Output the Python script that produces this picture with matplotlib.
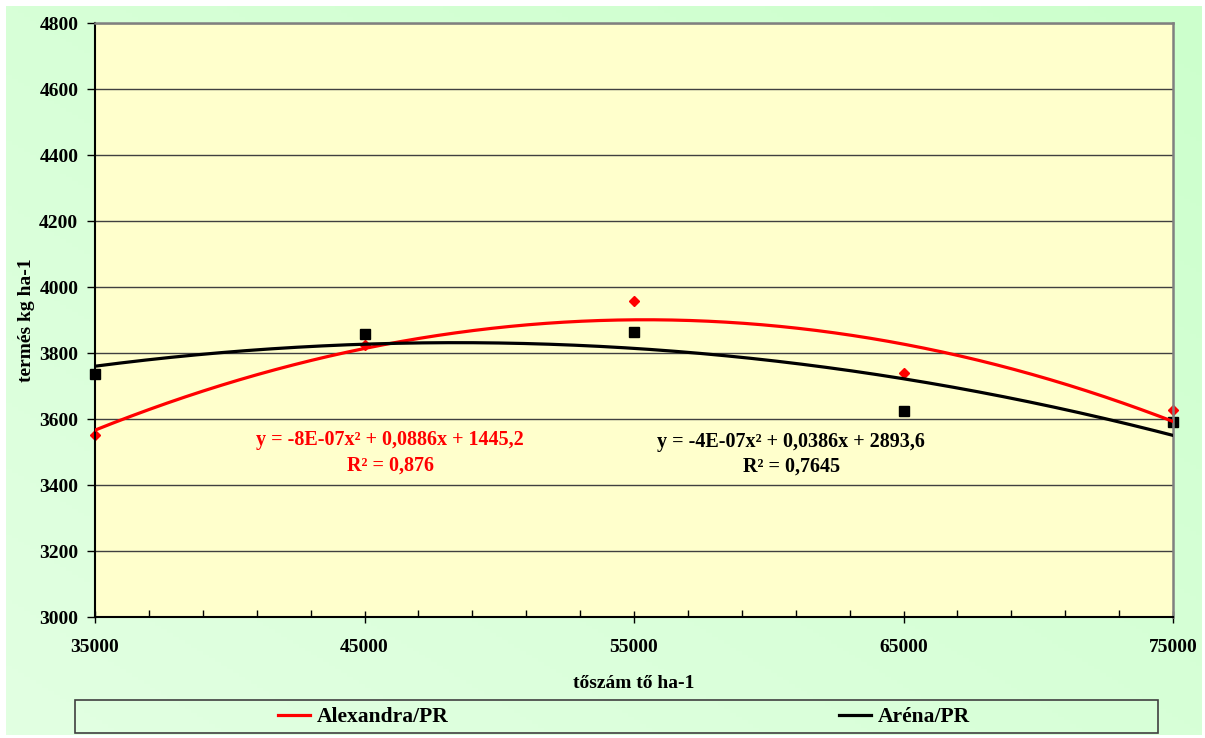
import numpy as np
import matplotlib
matplotlib.use("Agg")
import matplotlib.pyplot as plt
from matplotlib.patches import Rectangle
from matplotlib.ticker import MultipleLocator

# adatok
tőszám = [35000, 45000, 55000, 65000, 75000]
alexandra = [3551, 3825, 3958, 3739, 3627]
arena = [3736, 3858, 3864, 3624, 3591]

eq_alexandra = "y = -8E-07x² + 0,0886x + 1445,2\nR² = 0,876"
eq_arena = "y = -4E-07x² + 0,0386x + 2893,6\nR² = 0,7645"

plt.rcParams['font.family'] = ['Liberation Serif', 'DejaVu Serif']
plt.rcParams['font.weight'] = 'bold'

fig = plt.figure(figsize=(12.05, 7.38), dpi=100)
fig.patch.set_facecolor('white')

# zöld színátmenetes háttér (jobb felső sötétebb, bal alsó világosabb)
bg = fig.add_axes([6/1205, 3/738, 1196/1205, 729/738], zorder=-10)
gx, gy = np.meshgrid(np.linspace(0, 1, 200), np.linspace(0, 1, 200))
t = (1 - gx + gy) / 2
c0 = np.array([204, 255, 204]) / 255
c1 = np.array([226, 255, 226]) / 255
img = c0[None, None, :] * (1 - t[..., None]) + c1[None, None, :] * t[..., None]
bg.imshow(img, aspect='auto', extent=[0, 1, 0, 1], origin='upper')
bg.axis('off')

ax = fig.add_axes([95/1205, 121/738, 1078/1205, 594/738])
ax.set_facecolor('#ffffcc')

ax.plot(tőszám, alexandra, linestyle='none', marker='D', color='red', markersize=5.5,
        zorder=2, clip_on=False)
ax.plot(tőszám, arena, linestyle='none', marker='s', color='black', markersize=7,
        zorder=2, clip_on=False)

# trendvonalak (másodfokú)
xs = np.linspace(35000, 75000, 300)
p_alex = np.polyfit(tőszám, alexandra, 2)
p_aren = np.polyfit(tőszám, arena, 2)
l1, = ax.plot(xs, np.polyval(p_alex, xs), color='red', lw=2.3, label='Alexandra/PR', zorder=3)
l2, = ax.plot(xs, np.polyval(p_aren, xs), color='black', lw=2.3, label='Aréna/PR', zorder=3)

ax.text(45950, 3497, eq_alexandra, color='red', fontsize=14.5, fontweight='bold',
        ha='center', va='center', multialignment='center', linespacing=1.35)
ax.text(60830, 3493, eq_arena, color='black', fontsize=14.5, fontweight='bold',
        ha='center', va='center', multialignment='center', linespacing=1.35)

ax.set_xlim(35000, 75000)
ax.set_ylim(3000, 4800)
ax.xaxis.set_major_locator(MultipleLocator(10000, offset=5000))
ax.xaxis.set_minor_locator(MultipleLocator(2000, offset=1000))
ax.yaxis.set_major_locator(MultipleLocator(200))
ax.grid(axis='y', color='#404040', lw=1)
ax.set_axisbelow(True)

ax.tick_params(axis='x', which='major', direction='inout', length=9, width=1, pad=11, labelsize=14)
ax.tick_params(axis='x', which='minor', direction='in', length=5, width=1)
ax.tick_params(axis='y', which='major', direction='out', length=6, width=1, pad=6, labelsize=14)
for lab in ax.get_xticklabels() + ax.get_yticklabels():
    lab.set_fontweight('bold')

for s in ['left', 'bottom']:
    ax.spines[s].set_color('black')
    ax.spines[s].set_linewidth(1.5)
for s in ['top', 'right']:
    ax.spines[s].set_color('#808080')
    ax.spines[s].set_linewidth(1.8)

ax.set_xlabel('tőszám tő ha-1', fontsize=14, fontweight='bold')
ax.set_ylabel('termés kg ha-1', fontsize=14, fontweight='bold')
ax.xaxis.set_label_coords(0.5, -0.097)
ax.yaxis.set_label_coords(-0.056, 0.5)

# jelmagyarázat keret
fig.patches.append(Rectangle((75/1205, 5/738), 1083/1205, 33/738, transform=fig.transFigure,
                             facecolor='none', edgecolor='#404040', lw=1.2))
fig.legend(handles=[l1], loc='center', bbox_to_anchor=(363/1205, 21/738), frameon=False,
           handlelength=1.5, handletextpad=0.3, prop={'weight': 'bold', 'size': 15.5})
fig.legend(handles=[l2], loc='center', bbox_to_anchor=(904/1205, 21/738), frameon=False,
           handlelength=1.5, handletextpad=0.3, prop={'weight': 'bold', 'size': 15.5})

fig.savefig('out.png', dpi=100)
